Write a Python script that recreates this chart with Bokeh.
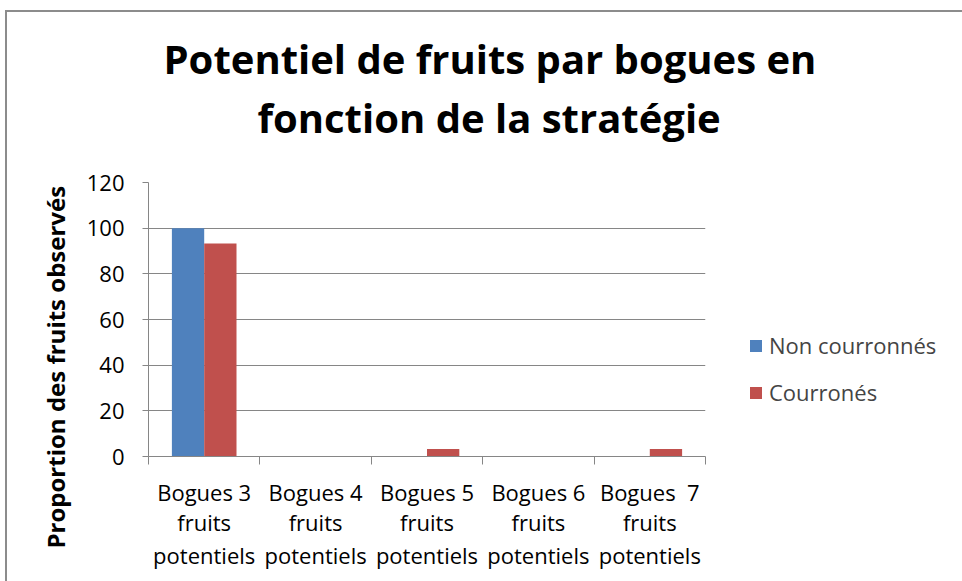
from bokeh.plotting import figure
from bokeh.models import (Range1d, FixedTicker, LinearAxis, Legend, LegendItem,
                          Title, ColumnDataSource)
from bokeh.transform import dodge
from bokeh.embed import file_html
from bokeh.resources import INLINE

# ---- data ----
cat_line1 = ["Bogues 3", "Bogues 4", "Bogues 5", "Bogues 6", "Bogues \u00a07"]
cat_line2 = ["fruits", "fruits", "fruits", "fruits", "fruits"]
cat_line3 = ["potentiels", "potentiels", "potentiels", "potentiels", "potentiels"]
non_couronnes = [100, 0, 0, 0, 0]
couronnes = [93.3, 0, 3.3, 0, 3.3]
series_names = ["Non courronnés", "Courronés"]
y_ticks = [0, 20, 40, 60, 80, 100, 120]
title_lines = ["Potentiel de fruits par bogues en", "fonction de la stratégie"]
y_label = "Proportion des fruits observés"

FONT = "Open Sans"
FS = "22px"
GRAY = "#868686"
BLUE = "#4F81BD"
RED = "#C0504D"

n = len(cat_line1)
centers = list(range(n))
bounds = [c - 0.5 for c in centers] + [centers[-1] + 0.5]

src = ColumnDataSource(dict(x=centers, a=non_couronnes, b=couronnes))

p = figure(frame_width=557, frame_height=274,
           min_border_left=141, min_border_right=257,
           min_border_top=170, min_border_bottom=125,
           x_range=Range1d(-0.5, n - 0.5), y_range=Range1d(0, 120),
           output_backend="svg", toolbar_location=None,
           background_fill_color="white", border_fill_color="white")
p.outline_line_color = None

bw = 0.29
r1 = p.vbar(x=dodge("x", -bw / 2, range=p.x_range), top="a", width=bw,
            source=src, fill_color=BLUE, line_color=None)
r2 = p.vbar(x=dodge("x", bw / 2, range=p.x_range), top="b", width=bw,
            source=src, fill_color=RED, line_color=None)

# y axis
p.yaxis.ticker = FixedTicker(ticks=y_ticks)
p.yaxis.axis_line_color = GRAY
p.yaxis.major_tick_line_color = GRAY
p.yaxis.major_tick_out = 6
p.yaxis.major_tick_in = 0
p.yaxis.minor_tick_line_color = None
p.yaxis.major_label_text_font = FONT
p.yaxis.major_label_text_font_size = FS
p.yaxis.major_label_text_color = "black"
p.yaxis.major_label_standoff = 18

p.ygrid.ticker = FixedTicker(ticks=y_ticks)
p.ygrid.grid_line_color = GRAY
p.xgrid.visible = False

# x axes (three lines of labels)
ax1 = p.xaxis[0]
ax1.ticker = FixedTicker(ticks=centers, minor_ticks=bounds)
ax1.axis_line_color = GRAY
ax1.major_tick_line_color = None
ax1.major_tick_out = 0
ax1.major_tick_in = 0
ax1.minor_tick_line_color = GRAY
ax1.minor_tick_out = 8
ax1.minor_tick_in = 0
ax1.major_label_overrides = {c: t for c, t in zip(centers, cat_line1)}
ax1.major_label_standoff = 12

for lines, standoff in ((cat_line2, -3), (cat_line3, 0)):
    ax = LinearAxis(ticker=FixedTicker(ticks=centers),
                    axis_line_color=None, major_tick_line_color=None,
                    minor_tick_line_color=None, major_tick_out=0,
                    major_tick_in=0,
                    major_label_overrides={c: t for c, t in zip(centers, lines)},
                    major_label_standoff=standoff)
    p.add_layout(ax, "below")

for ax in p.xaxis:
    ax.major_label_text_font = FONT
    ax.major_label_text_font_size = FS
    ax.major_label_text_color = "black"

# legend (outside, right)
legend = Legend(items=[LegendItem(label=series_names[0], renderers=[r1]),
                       LegendItem(label=series_names[1], renderers=[r2])],
                location=(43, 49), padding=0, margin=0, spacing=17,
                glyph_width=15, glyph_height=15, label_height=24,
                label_standoff=6, border_line_color=None,
                background_fill_alpha=0,
                label_text_font=FONT, label_text_font_size=FS)
p.add_layout(legend, "right")

# title: spacer, then two lines (outer line added last)
p.add_layout(Title(text=" ", text_font_size="1px", standoff=32), "above")
p.add_layout(Title(text=title_lines[1], align="left", offset=109, standoff=5,
                   text_font=FONT, text_font_size="40px",
                   text_font_style="bold", text_color="black"), "above")
p.add_layout(Title(text=title_lines[0], align="left", offset=15, standoff=0,
                   text_font=FONT, text_font_size="40px",
                   text_font_style="bold", text_color="black"), "above")

# y axis label
p.add_layout(Title(text=y_label, align="left", offset=-92, standoff=24,
                   text_font=FONT, text_font_size="24px",
                   text_font_style="bold", text_color="black"), "left")

p.styles = {"margin-left": "5px", "margin-top": "10px",
            "border-top": "2px solid #8c8c8c", "border-left": "2px solid #8c8c8c"}

open("out.html", "w").write(file_html(p, INLINE))
